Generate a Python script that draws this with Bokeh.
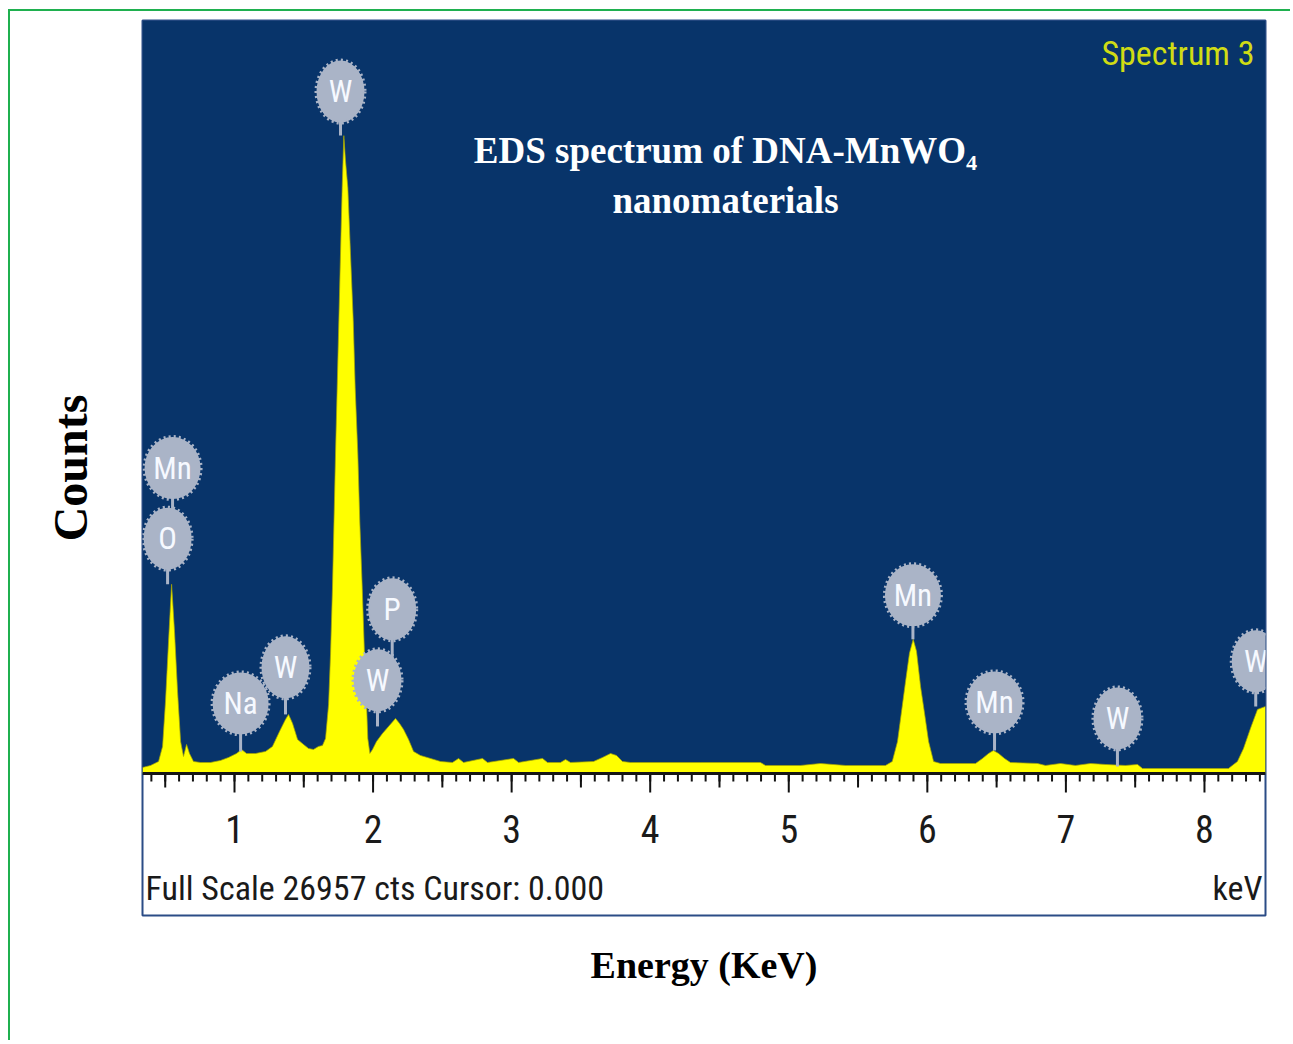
from bokeh.plotting import figure
from bokeh.models import Range1d, FixedTicker, Label, BoxAnnotation, Span
from bokeh.core.properties import value
from bokeh.embed import file_html
from bokeh.resources import INLINE

# ---------------- data ----------------
energy_kev = [0.336, 0.394, 0.452, 0.481, 0.502, 0.524, 0.546, 0.567, 0.589, 0.611,
              0.632, 0.654, 0.675, 0.704, 0.755, 0.827, 0.899, 0.957, 1.015, 1.051,
              1.087, 1.152, 1.224, 1.274, 1.325, 1.368, 1.390, 1.419, 1.455, 1.498,
              1.534, 1.570, 1.606, 1.635, 1.657, 1.679, 1.693, 1.707, 1.718, 1.729,
              1.741, 1.753, 1.765, 1.777, 1.789, 1.801, 1.818, 1.837, 1.857, 1.871,
              1.890, 1.904, 1.922, 1.938, 1.953, 1.962, 1.977, 1.996, 2.025, 2.068,
              2.112, 2.162, 2.191, 2.220, 2.256, 2.292, 2.342, 2.415, 2.487, 2.573,
              2.617, 2.653, 2.790, 2.826, 3.014, 3.050, 3.223, 3.259, 3.353, 3.389,
              3.425, 3.591, 3.656, 3.714, 3.757, 3.800, 3.858, 4.363, 4.796, 4.832,
              5.085, 5.229, 5.410, 5.590, 5.698, 5.747, 5.785, 5.814, 5.843, 5.871,
              5.898, 5.922, 5.951, 5.980, 6.009, 6.045, 6.095, 6.348, 6.398, 6.442,
              6.477, 6.514, 6.557, 6.600, 6.795, 6.853, 6.961, 7.069, 7.178, 7.286,
              7.430, 7.517, 7.553, 8.173, 8.238, 8.282, 8.332, 8.383, 8.441]
counts = [215, 287, 430, 968, 2581, 4732, 6775, 5091, 2940, 1147,
          609, 1040, 717, 430, 394, 394, 466, 574, 717, 860,
          717, 717, 789, 968, 1506, 1936, 2115, 1792, 1219, 1040,
          896, 860, 968, 1004, 1255, 2474, 4266, 6632, 9034, 11436,
          13802, 16204, 18606, 20972, 22836, 21940, 20972, 18606, 16204, 13802,
          11436, 9034, 6632, 4266, 2474, 1255, 717, 860, 1147, 1434,
          1685, 1972, 1792, 1577, 1219, 789, 645, 538, 430, 394,
          538, 394, 538, 394, 538, 394, 538, 394, 394, 502,
          394, 430, 574, 717, 645, 430, 394, 394, 394, 287,
          287, 358, 287, 287, 287, 430, 1147, 2223, 3298, 4302,
          4804, 4374, 3119, 2151, 1147, 430, 358, 358, 538, 717,
          824, 717, 538, 394, 358, 287, 358, 287, 358, 323,
          287, 323, 179, 179, 430, 896, 1613, 2294, 2402]

peak_labels = ["Mn", "O", "Na", "W", "P", "W", "W", "Mn", "Mn", "W", "W"]
label_kev = [0.553, 0.517, 1.044, 1.368, 2.138, 2.032, 1.765, 5.896, 6.485, 7.372, 8.370]
label_counts = [10934, 8407, 2510, 3800, 5879, 3334, 24413, 6381, 2545, 1972, 4015]
stem_end_counts = [8407, 6775, 789, 2115, 3334, 1685, 22836, 4804, 824, 251, 2402]

x_ticks = [1, 2, 3, 4, 5, 6, 7, 8]
x_tick_labels = ["1", "2", "3", "4", "5", "6", "7", "8"]
x_half_ticks = [0.5, 1.5, 2.5, 3.5, 4.5, 5.5, 6.5, 7.5]
x_minor_ticks = [round(0.4 + 0.1 * i, 1) for i in range(81)]
full_scale = 26957
x_start, x_end = 0.336, 8.4405

# ---------------- styling / layout ----------------
NAVY = "#08346a"
YELLOW = "#ffff00"
BLOB = "#aab4c7"
GREEN = "#1fb04f"
STRIP = "#2b4c86"
NARROW = "Roboto Condensed, Liberation Sans Narrow, Roboto"
SERIF = "Liberation Serif"

W, H = 1290, 1040
ML, MR, MT, MB = 142, 25, 20, 125
frame_w = W - ML - MR
spec_px = 753            # height of the dark spectrum panel
strip_px = 142           # height of the white tick strip
cpp = full_scale / spec_px   # counts per pixel

p = figure(width=W, height=H, output_backend="svg", toolbar_location=None,
           x_range=Range1d(x_start, x_end),
           y_range=Range1d(-strip_px * cpp, full_scale),
           min_border_left=ML, min_border_right=MR, min_border_top=MT, min_border_bottom=MB,
           background_fill_color="white", border_fill_color="white", border_fill_alpha=0)
p.styles = {"background": (f"linear-gradient({GREEN},{GREEN}) 8px 9px / 100% 2px no-repeat, "
                           f"linear-gradient({GREEN},{GREEN}) 8px 9px / 2px 100% no-repeat, white")}
p.xgrid.visible = False
p.ygrid.visible = False
p.outline_line_color = STRIP
p.outline_line_width = 2

# dark spectrum panel
p.add_layout(BoxAnnotation(bottom=0, fill_color=NAVY, fill_alpha=1, line_alpha=0,
                           level="underlay"))

# spectrum
p.varea(x=energy_kev, y1=0, y2=counts, fill_color=YELLOW)
p.line(x=energy_kev, y=counts, line_color="#a8a600", line_width=1, line_alpha=0.7)

# element markers
p.segment(x0=label_kev, y0=label_counts, x1=label_kev, y1=stem_end_counts,
          line_color=BLOB, line_width=3)
blob_w = [56 if len(t) > 1 else 48 for t in peak_labels]
p.ellipse(x=label_kev, y=label_counts, width=blob_w, height=62,
          width_units="screen", height_units="screen",
          fill_color=BLOB, line_color=BLOB, line_width=4, line_dash="2 3")
p.text(x=label_kev, y=label_counts, text=peak_labels, text_align="center",
       text_baseline="middle", text_font=value(NARROW), text_font_size="31px",
       text_color="#f6f9ff")

# tick strip: base line, ticks, labels
p.add_layout(Span(location=0, dimension="width", line_color="#151515", line_width=3))
p.segment(x0=x_minor_ticks, y0=0, x1=x_minor_ticks, y1=-8 * cpp,
          line_color="#111111", line_width=2)
p.segment(x0=x_half_ticks, y0=0, x1=x_half_ticks, y1=-14 * cpp,
          line_color="#111111", line_width=2)
p.segment(x0=x_ticks, y0=0, x1=x_ticks, y1=-19 * cpp,
          line_color="#111111", line_width=2)
p.text(x=x_ticks, y=-55 * cpp, text=x_tick_labels, text_align="center",
       text_baseline="middle", text_font=value(NARROW), text_font_size="38px",
       text_color="#1a1a1a")

p.add_layout(Label(x=3, y=28, x_units="screen", y_units="screen",
                   text="Full Scale 26957 cts Cursor: 0.000", text_align="left",
                   text_baseline="middle", text_font=NARROW,
                   text_font_size="34px", text_color="#1a1a1a"))
p.add_layout(Label(x=frame_w - 3, y=28, x_units="screen", y_units="screen",
                   text="keV", text_align="right", text_baseline="middle",
                   text_font=NARROW, text_font_size="34px", text_color="#1a1a1a"))
p.add_layout(Label(x=frame_w - 11, y=863, x_units="screen", y_units="screen",
                   text="Spectrum 3", text_align="right", text_baseline="middle",
                   text_font=NARROW, text_font_size="34px", text_color="#d0dc14"))
p.add_layout(Label(x=583, y=765, x_units="screen", y_units="screen",
                   text="EDS spectrum of DNA-MnWO₄", text_align="center",
                   text_baseline="middle", text_font=SERIF, text_font_style="bold",
                   text_font_size="37px", text_color="white"))
p.add_layout(Label(x=583, y=715, x_units="screen", y_units="screen",
                   text="nanomaterials", text_align="center",
                   text_baseline="middle", text_font=SERIF, text_font_style="bold",
                   text_font_size="37px", text_color="white"))

# x axis: title only
xa = p.xaxis[0]
xa.ticker = FixedTicker(ticks=[])
xa.axis_line_color = None
xa.major_tick_out = 0
xa.minor_tick_out = 0
xa.major_label_standoff = 0
xa.axis_label = "Energy (KeV)"
xa.axis_label_text_font = SERIF
xa.axis_label_text_font_style = "bold"
xa.axis_label_text_font_size = "38px"
xa.axis_label_text_color = "#000000"
xa.axis_label_standoff = 28

# y axis: title only
ya = p.yaxis[0]
ya.ticker = FixedTicker(ticks=[])
ya.axis_line_color = None
ya.major_tick_out = 0
ya.minor_tick_out = 0
ya.major_label_standoff = 0
ya.axis_label = "Counts"
ya.axis_label_text_font = SERIF
ya.axis_label_text_font_style = "bold"
ya.axis_label_text_font_size = "48px"
ya.axis_label_text_color = "#000000"
ya.axis_label_standoff = 46

open("out.html", "w").write(file_html(p, INLINE))
